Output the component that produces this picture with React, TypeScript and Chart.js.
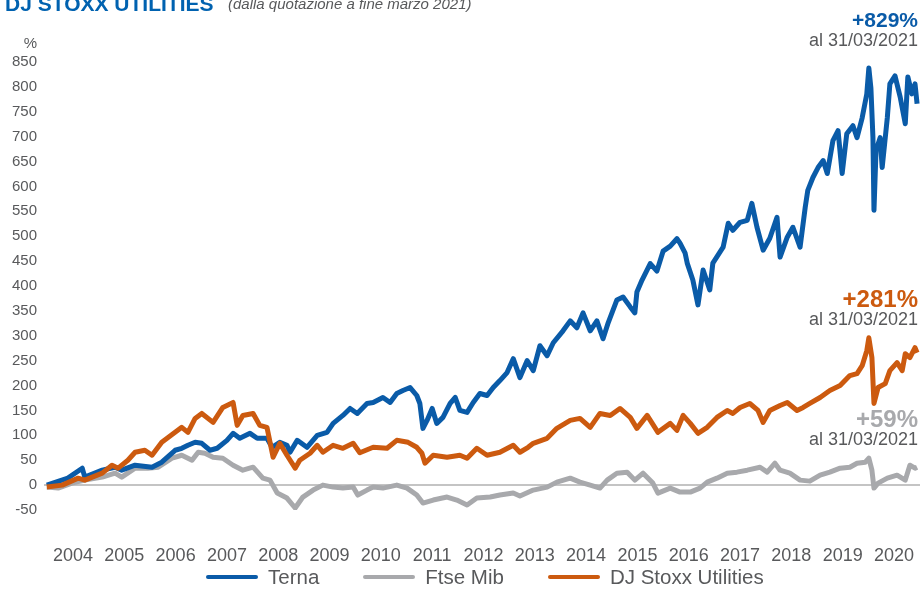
import React, { useEffect, useRef } from "react";
import { Chart, registerables } from "chart.js";

Chart.register(...registerables);

const FONT = '"Liberation Sans", Arial, Helvetica, sans-serif';

const tickYears = [2004, 2005, 2006, 2007, 2008, 2009, 2010, 2011, 2012, 2013, 2014, 2015, 2016, 2017, 2018, 2019, 2020];

const ternaDates = [2003.99, 2004.40, 2004.68, 2004.73, 2005.07, 2005.32, 2005.45, 2005.71, 2006.04, 2006.23, 2006.49, 2006.62, 2006.74, 2006.88, 2007.01, 2007.17, 2007.31, 2007.50, 2007.62, 2007.75, 2007.95, 2008.09, 2008.28, 2008.38, 2008.53, 2008.67, 2008.73, 2008.87, 2009.06, 2009.26, 2009.45, 2009.57, 2009.76, 2009.90, 2010.04, 2010.23, 2010.35, 2010.54, 2010.68, 2010.81, 2010.93, 2011.07, 2011.20, 2011.26, 2011.32, 2011.40, 2011.50, 2011.59, 2011.71, 2011.85, 2011.95, 2012.04, 2012.18, 2012.30, 2012.43, 2012.57, 2012.69, 2012.82, 2012.96, 2013.08, 2013.21, 2013.35, 2013.47, 2013.60, 2013.74, 2013.86, 2014.05, 2014.19, 2014.32, 2014.44, 2014.58, 2014.71, 2014.83, 2014.93, 2015.10, 2015.22, 2015.36, 2015.45, 2015.49, 2015.59, 2015.75, 2015.88, 2016.00, 2016.14, 2016.27, 2016.33, 2016.43, 2016.47, 2016.58, 2016.68, 2016.78, 2016.91, 2016.97, 2017.17, 2017.27, 2017.36, 2017.50, 2017.64, 2017.73, 2017.83, 2017.95, 2018.08, 2018.22, 2018.28, 2018.42, 2018.53, 2018.67, 2018.77, 2018.82, 2018.92, 2019.02, 2019.12, 2019.20, 2019.31, 2019.41, 2019.49, 2019.58, 2019.70, 2019.78, 2019.88, 2019.97, 2020.01, 2020.05, 2020.09, 2020.11, 2020.15, 2020.23, 2020.27, 2020.37, 2020.42, 2020.52, 2020.62, 2020.72, 2020.77, 2020.85, 2020.91, 2020.95];
const ternaValues = [0, 14, 34, 16, 30, 36, 30, 40, 36, 46, 70, 74, 80, 86, 84, 70, 74, 90, 104, 94, 104, 94, 94, 76, 86, 80, 66, 90, 76, 100, 106, 124, 140, 154, 144, 164, 166, 176, 166, 184, 190, 196, 180, 164, 114, 130, 154, 124, 136, 164, 176, 150, 146, 166, 184, 180, 196, 210, 226, 254, 216, 250, 230, 280, 260, 286, 310, 330, 316, 346, 310, 330, 294, 326, 372, 378, 358, 346, 388, 412, 445, 430, 470, 480, 495, 486, 466, 446, 412, 362, 432, 392, 446, 478, 526, 512, 528, 532, 566, 518, 472, 496, 538, 458, 498, 518, 478, 558, 592, 618, 638, 652, 626, 692, 712, 626, 706, 722, 698, 738, 786, 838, 798, 698, 552, 672, 698, 638, 738, 806, 822, 780, 726, 820, 786, 806, 766];

const ftseDates = [2003.99, 2004.21, 2004.48, 2004.73, 2005.07, 2005.32, 2005.45, 2005.71, 2005.96, 2006.16, 2006.43, 2006.62, 2006.82, 2006.94, 2007.07, 2007.23, 2007.42, 2007.62, 2007.81, 2008.01, 2008.20, 2008.34, 2008.48, 2008.67, 2008.83, 2008.98, 2009.18, 2009.37, 2009.57, 2009.76, 2009.96, 2010.05, 2010.23, 2010.35, 2010.54, 2010.81, 2011.01, 2011.20, 2011.32, 2011.52, 2011.79, 2011.98, 2012.18, 2012.37, 2012.63, 2012.82, 2013.08, 2013.21, 2013.47, 2013.74, 2013.93, 2014.19, 2014.38, 2014.58, 2014.77, 2014.91, 2015.10, 2015.30, 2015.45, 2015.61, 2015.80, 2015.90, 2016.14, 2016.33, 2016.53, 2016.72, 2016.86, 2017.05, 2017.25, 2017.44, 2017.64, 2017.89, 2018.03, 2018.18, 2018.28, 2018.47, 2018.67, 2018.86, 2019.06, 2019.25, 2019.45, 2019.64, 2019.78, 2019.94, 2020.01, 2020.07, 2020.11, 2020.19, 2020.37, 2020.56, 2020.72, 2020.81, 2020.91, 2020.95];
const ftseValues = [-4, -6, 4, 10, 16, 24, 16, 34, 34, 36, 54, 60, 50, 66, 64, 56, 54, 40, 30, 36, 14, 10, -16, -26, -46, -24, -10, 0, -4, -6, -4, -20, -10, -4, -6, 0, -6, -20, -36, -30, -24, -30, -40, -26, -24, -20, -16, -22, -10, -4, 6, 14, 6, 0, -6, 10, 24, 26, 10, 24, 4, -16, -6, -14, -14, -6, 6, 14, 24, 26, 30, 36, 26, 44, 30, 24, 10, 8, 20, 26, 34, 36, 44, 46, 54, 30, -6, 4, 14, 20, 10, 40, 34, 36];

const stoxxDates = [2003.99, 2004.29, 2004.60, 2004.73, 2005.07, 2005.26, 2005.38, 2005.57, 2005.71, 2005.90, 2006.04, 2006.23, 2006.49, 2006.62, 2006.74, 2006.88, 2007.01, 2007.23, 2007.42, 2007.62, 2007.70, 2007.81, 2008.01, 2008.14, 2008.28, 2008.40, 2008.53, 2008.67, 2008.83, 2008.92, 2009.12, 2009.26, 2009.37, 2009.57, 2009.76, 2009.96, 2010.09, 2010.35, 2010.62, 2010.81, 2011.03, 2011.20, 2011.30, 2011.36, 2011.52, 2011.79, 2012.04, 2012.18, 2012.37, 2012.57, 2012.82, 2013.08, 2013.21, 2013.37, 2013.47, 2013.74, 2013.93, 2014.19, 2014.38, 2014.58, 2014.77, 2014.97, 2015.16, 2015.36, 2015.49, 2015.69, 2015.90, 2016.14, 2016.27, 2016.39, 2016.53, 2016.68, 2016.86, 2017.05, 2017.25, 2017.36, 2017.50, 2017.69, 2017.85, 2017.95, 2018.08, 2018.28, 2018.42, 2018.61, 2018.73, 2018.86, 2019.06, 2019.25, 2019.45, 2019.64, 2019.78, 2019.88, 2019.97, 2020.01, 2020.07, 2020.11, 2020.19, 2020.33, 2020.42, 2020.56, 2020.66, 2020.72, 2020.81, 2020.91, 2020.95];
const stoxxValues = [-4, 0, 14, 10, 24, 40, 34, 50, 66, 70, 60, 86, 106, 116, 106, 134, 144, 126, 156, 166, 120, 140, 144, 120, 116, 56, 84, 60, 34, 50, 64, 80, 66, 80, 74, 84, 65, 76, 74, 90, 86, 76, 64, 44, 60, 56, 60, 54, 74, 60, 66, 80, 66, 76, 84, 94, 114, 130, 134, 116, 144, 140, 154, 136, 114, 140, 106, 124, 110, 140, 124, 104, 116, 136, 150, 144, 156, 164, 150, 126, 150, 160, 166, 150, 156, 164, 176, 190, 200, 220, 224, 240, 270, 296, 256, 164, 196, 204, 230, 246, 230, 264, 256, 276, 266];

const X_MIN = 2003.935;
const X_MAX = 2021.007;

const BLUE = "#0a5ba8";
const GRAY = "#a8a9ac";
const ORANGE = "#cc5a0f";
const TEXT = "#58595b";

function pts(d: number[], v: number[]) {
  return d.map((x, i) => ({ x, y: v[i] }));
}

export default function App() {
  const ref = useRef<HTMLCanvasElement | null>(null);

  useEffect(() => {
    if (!ref.current) return;
    const common = { pointRadius: 0, borderWidth: 5, tension: 0, fill: false, borderJoinStyle: "round" as const };
    const chart = new Chart(ref.current, {
      type: "line",
      data: {
        datasets: [
          { label: "Terna", data: pts(ternaDates, ternaValues), borderColor: BLUE, backgroundColor: BLUE, order: 1, ...common },
          { label: "Ftse Mib", data: pts(ftseDates, ftseValues), borderColor: GRAY, backgroundColor: GRAY, order: 2, ...common },
          { label: "DJ Stoxx Utilities", data: pts(stoxxDates, stoxxValues), borderColor: ORANGE, backgroundColor: ORANGE, order: 0, ...common },
        ],
      },
      options: {
        animation: false,
        responsive: true,
        maintainAspectRatio: false,
        layout: { padding: { top: 62, right: 3, bottom: 0, left: 0 } },
        plugins: { legend: { display: false }, tooltip: { enabled: false } },
        scales: {
          x: {
            type: "linear",
            min: X_MIN,
            max: X_MAX,
            grid: { display: false, drawTicks: false },
            border: { display: false },
            afterBuildTicks: (axis: any) => {
              axis.ticks = tickYears.map((y) => ({ value: y + 0.5 }));
            },
            afterFit: (s: any) => {
              s.height = 79;
              s.paddingLeft = 0;
              s.paddingRight = 0;
            },
            ticks: {
              autoSkip: false,
              maxRotation: 0,
              padding: 35,
              color: TEXT,
              font: { size: 18, family: FONT },
              callback: (v: any) => String(Math.floor(Number(v))),
            },
          },
          y: {
            min: -50,
            max: 850,
            border: { display: false },
            grid: {
              drawTicks: false,
              lineWidth: 2,
              color: (ctx: any) => (ctx.tick && ctx.tick.value === 0 ? "#c4c4c4" : "rgba(0,0,0,0)"),
            },
            afterFit: (s: any) => {
              s.width = 44;
              s.paddingTop = 0;
              s.paddingBottom = 0;
            },
            ticks: { stepSize: 50, padding: 7, color: TEXT, font: { size: 15, family: FONT } },
          },
        },
      },
    });
    return () => chart.destroy();
  }, []);

  const abs = (s: React.CSSProperties): React.CSSProperties => ({ position: "absolute", whiteSpace: "nowrap", fontFamily: FONT, lineHeight: 1, ...s });
  const legendItems = [
    { label: "Terna", color: BLUE },
    { label: "Ftse Mib", color: GRAY },
    { label: "DJ Stoxx Utilities", color: ORANGE },
  ];

  return (
    <div style={{ position: "absolute", left: 0, top: 0, width: 923, height: 589, overflow: "hidden", background: "#fff" }}>
      <canvas ref={ref} width={923} height={589} style={{ position: "absolute", left: 0, top: 0 }} />
      <div style={abs({ left: 5, top: -7, fontSize: 21, fontWeight: 700, color: "#0062b0" })}>DJ STOXX UTILITIES</div>
      <div style={abs({ left: 228, top: -4, fontSize: 15, fontStyle: "italic", color: TEXT })}>(dalla quotazione a fine marzo 2021)</div>
      <div style={abs({ right: 923 - 37, top: 35, fontSize: 15, color: TEXT })}>%</div>

      <div style={abs({ right: 5, top: 9, fontSize: 21, fontWeight: 700, color: BLUE })}>+829%</div>
      <div style={abs({ right: 5, top: 31, fontSize: 18, color: TEXT })}>al 31/03/2021</div>
      <div style={abs({ right: 5, top: 287, fontSize: 24, fontWeight: 700, color: ORANGE })}>+281%</div>
      <div style={abs({ right: 5, top: 310, fontSize: 18, color: TEXT })}>al 31/03/2021</div>
      <div style={abs({ right: 5, top: 407, fontSize: 24, fontWeight: 700, color: GRAY })}>+59%</div>
      <div style={abs({ right: 5, top: 430, fontSize: 18, color: TEXT })}>al 31/03/2021</div>

      <div style={abs({ left: 206, top: 567, display: "flex", alignItems: "center", fontSize: 20.5, color: TEXT })}>
        {legendItems.map((it, i) => (
          <div key={it.label} style={{ display: "flex", alignItems: "center", marginLeft: i === 0 ? 0 : 44 }}>
            <div style={{ width: 52, height: 4, background: it.color, borderRadius: 2, marginRight: 10 }} />
            <span>{it.label}</span>
          </div>
        ))}
      </div>
    </div>
  );
}
